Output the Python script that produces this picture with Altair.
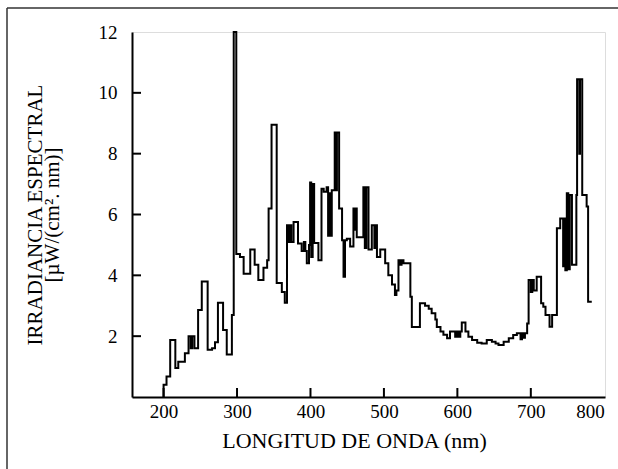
import altair as alt
import pandas as pd

# Step spectrum (start of each step in nm, irradiance in µW/(cm²·nm))
wavelength = [200, 204, 209, 216, 220, 229, 234, 237, 239, 242, 247, 252, 260, 266, 270, 274, 281, 286, 293, 295.5,
              299, 304, 309, 318, 324, 329, 336, 341, 343, 347, 354, 361, 365, 368, 370, 372, 374, 377, 383, 388,
              391, 393, 395, 398, 399.5, 401, 403, 405, 410.8, 415, 418, 422, 424, 426, 428, 429, 433, 435, 436, 439,
              443, 445, 447, 449.5, 454, 458.5, 460, 461, 463, 472, 474, 476, 479, 483.5, 487, 488.5, 490.5, 495, 501.7, 506,
              511, 515, 517, 519.8, 522, 524, 526.6, 536, 538, 549, 556, 561, 565, 570, 572, 577, 581, 586, 590, 597,
              599, 601.5, 604, 606, 611, 615, 620, 627, 633, 640, 647, 652, 656, 663, 670, 676, 681, 686, 688, 690,
              692, 695, 697, 700, 702, 704, 708, 714, 717, 720, 725.5, 729, 735.5, 740, 744, 745, 747, 749, 751, 753,
              756, 762, 763, 766, 767, 770, 776, 778, 783]
irradiance = [0.4, 0.67, 1.87, 0.95, 1.16, 1.44, 2.0, 1.6, 2.0, 1.6, 2.86, 3.8, 1.55, 1.6, 1.8, 3.1, 2.2, 1.4, 2.7, 12,
              4.7, 4.6, 4.05, 4.85, 4.35, 3.85, 4.25, 4.5, 6.2, 8.95, 3.75, 3.45, 3.1, 5.65, 5.1, 5.65, 5.1, 5.75, 5.05, 4.8,
              5.1, 4.8, 4.4, 5.0, 7.05, 4.6, 7.0, 5.06, 4.5, 6.85, 6.75, 6.9, 5.3, 6.7, 5.3, 6.8, 8.7, 6.8, 8.7, 6.2,
              5.15, 3.95, 5.15, 5.2, 4.95, 6.2, 5.5, 6.2, 5.25, 6.9, 4.9, 6.9, 4.85, 5.65, 4.9, 5.65, 4.6, 4.85, 4.4, 4.0,
              3.7, 3.35, 3.5, 4.5, 4.35, 4.5, 4.4, 3.3, 2.3, 3.08, 3.0, 2.9, 2.75, 2.55, 2.3, 2.15, 2.05, 1.93, 2.15, 1.98,
              2.15, 1.98, 2.15, 2.45, 2.15, 1.98, 1.87, 1.78, 1.76, 1.87, 1.82, 1.76, 1.71, 1.82, 1.93, 2.04, 2.1, 1.9, 2.1, 1.95,
              2.1, 2.42, 3.85, 3.45, 3.85, 3.5, 3.95, 3.08, 2.97, 2.7, 2.31, 2.7, 5.55, 5.87, 4.3, 5.87, 4.17, 6.7, 4.2, 6.64,
              4.35, 6.64, 10.45, 8.0, 10.45, 6.64, 6.26, 3.13, 3.13]

x_ticks = [200, 300, 400, 500, 600, 700, 800]
y_ticks = [2, 4, 6, 8, 10, 12]

W, H = 473, 365
LEFT, TOP = 132, 32
FONT = "Liberation Serif"

df = pd.DataFrame({"nm": [200] + wavelength, "irr": [0] + irradiance})
df["i"] = range(len(df))

xscale = alt.Scale(domain=[157, 801], nice=False, zero=False)
yscale = alt.Scale(domain=[0, 12], nice=False)

line = alt.Chart(df).mark_line(interpolate="step-after", color="black", strokeWidth=2).encode(
    x=alt.X("nm:Q", scale=xscale,
            axis=alt.Axis(values=x_ticks, ticks=False, grid=False, domainColor="black", domainWidth=2,
                          labelFont=FONT, labelFontSize=19, labelColor="black", labelPadding=5,
                          title="LONGITUD DE ONDA (nm)", titleFont=FONT, titleFontSize=22,
                          titleFontWeight="normal", titleColor="black", titleX=222, titleY=50,
                          titleAlign="center", titleBaseline="alphabetic")),
    y=alt.Y("irr:Q", scale=yscale,
            axis=alt.Axis(values=y_ticks, ticks=False, grid=False, domainColor="black", domainWidth=2,
                          labelFont=FONT, labelFontSize=19, labelColor="black", labelPadding=15,
                          title=["IRRADIANCIA ESPECTRAL", "[µW/(cm². nm)]"], titleFont=FONT,
                          titleFontSize=21, titleFontWeight="normal", titleColor="black",
                          titlePadding=36, titleLineHeight=17)),
    order="i:Q",
)

xt = alt.Chart(pd.DataFrame({"t": x_ticks[:-1]})).mark_rule(color="black", strokeWidth=2).encode(
    x=alt.X("t:Q", scale=xscale), y=alt.value(H), y2=alt.value(H - 9))
yt = alt.Chart(pd.DataFrame({"t": y_ticks[:-1]})).mark_rule(color="black", strokeWidth=2).encode(
    y=alt.Y("t:Q", scale=yscale), x=alt.value(0), x2=alt.value(9))

# decorative outer figure frame (top and left edges visible in the scan)
frame_top = alt.Chart(pd.DataFrame({"a": [0]})).mark_rule(color="#333", strokeWidth=1.5).encode(
    x=alt.value(7 - LEFT), x2=alt.value(618 - LEFT), y=alt.value(8 - TOP))
frame_left = alt.Chart(pd.DataFrame({"a": [0]})).mark_rule(color="#333", strokeWidth=1.5).encode(
    x=alt.value(7 - LEFT), y=alt.value(8 - TOP), y2=alt.value(469 - TOP))

chart = alt.layer(frame_top, frame_left, line, xt, yt).properties(
    width=W, height=H,
    autosize=alt.AutoSizeParams(type="none"),
    padding={"left": LEFT, "top": TOP, "right": 618 - LEFT - W, "bottom": 469 - TOP - H},
).configure_view(stroke="black", strokeWidth=2).configure(background="white")

chart.save("out.html", embed_options={"renderer": "svg", "actions": False})
